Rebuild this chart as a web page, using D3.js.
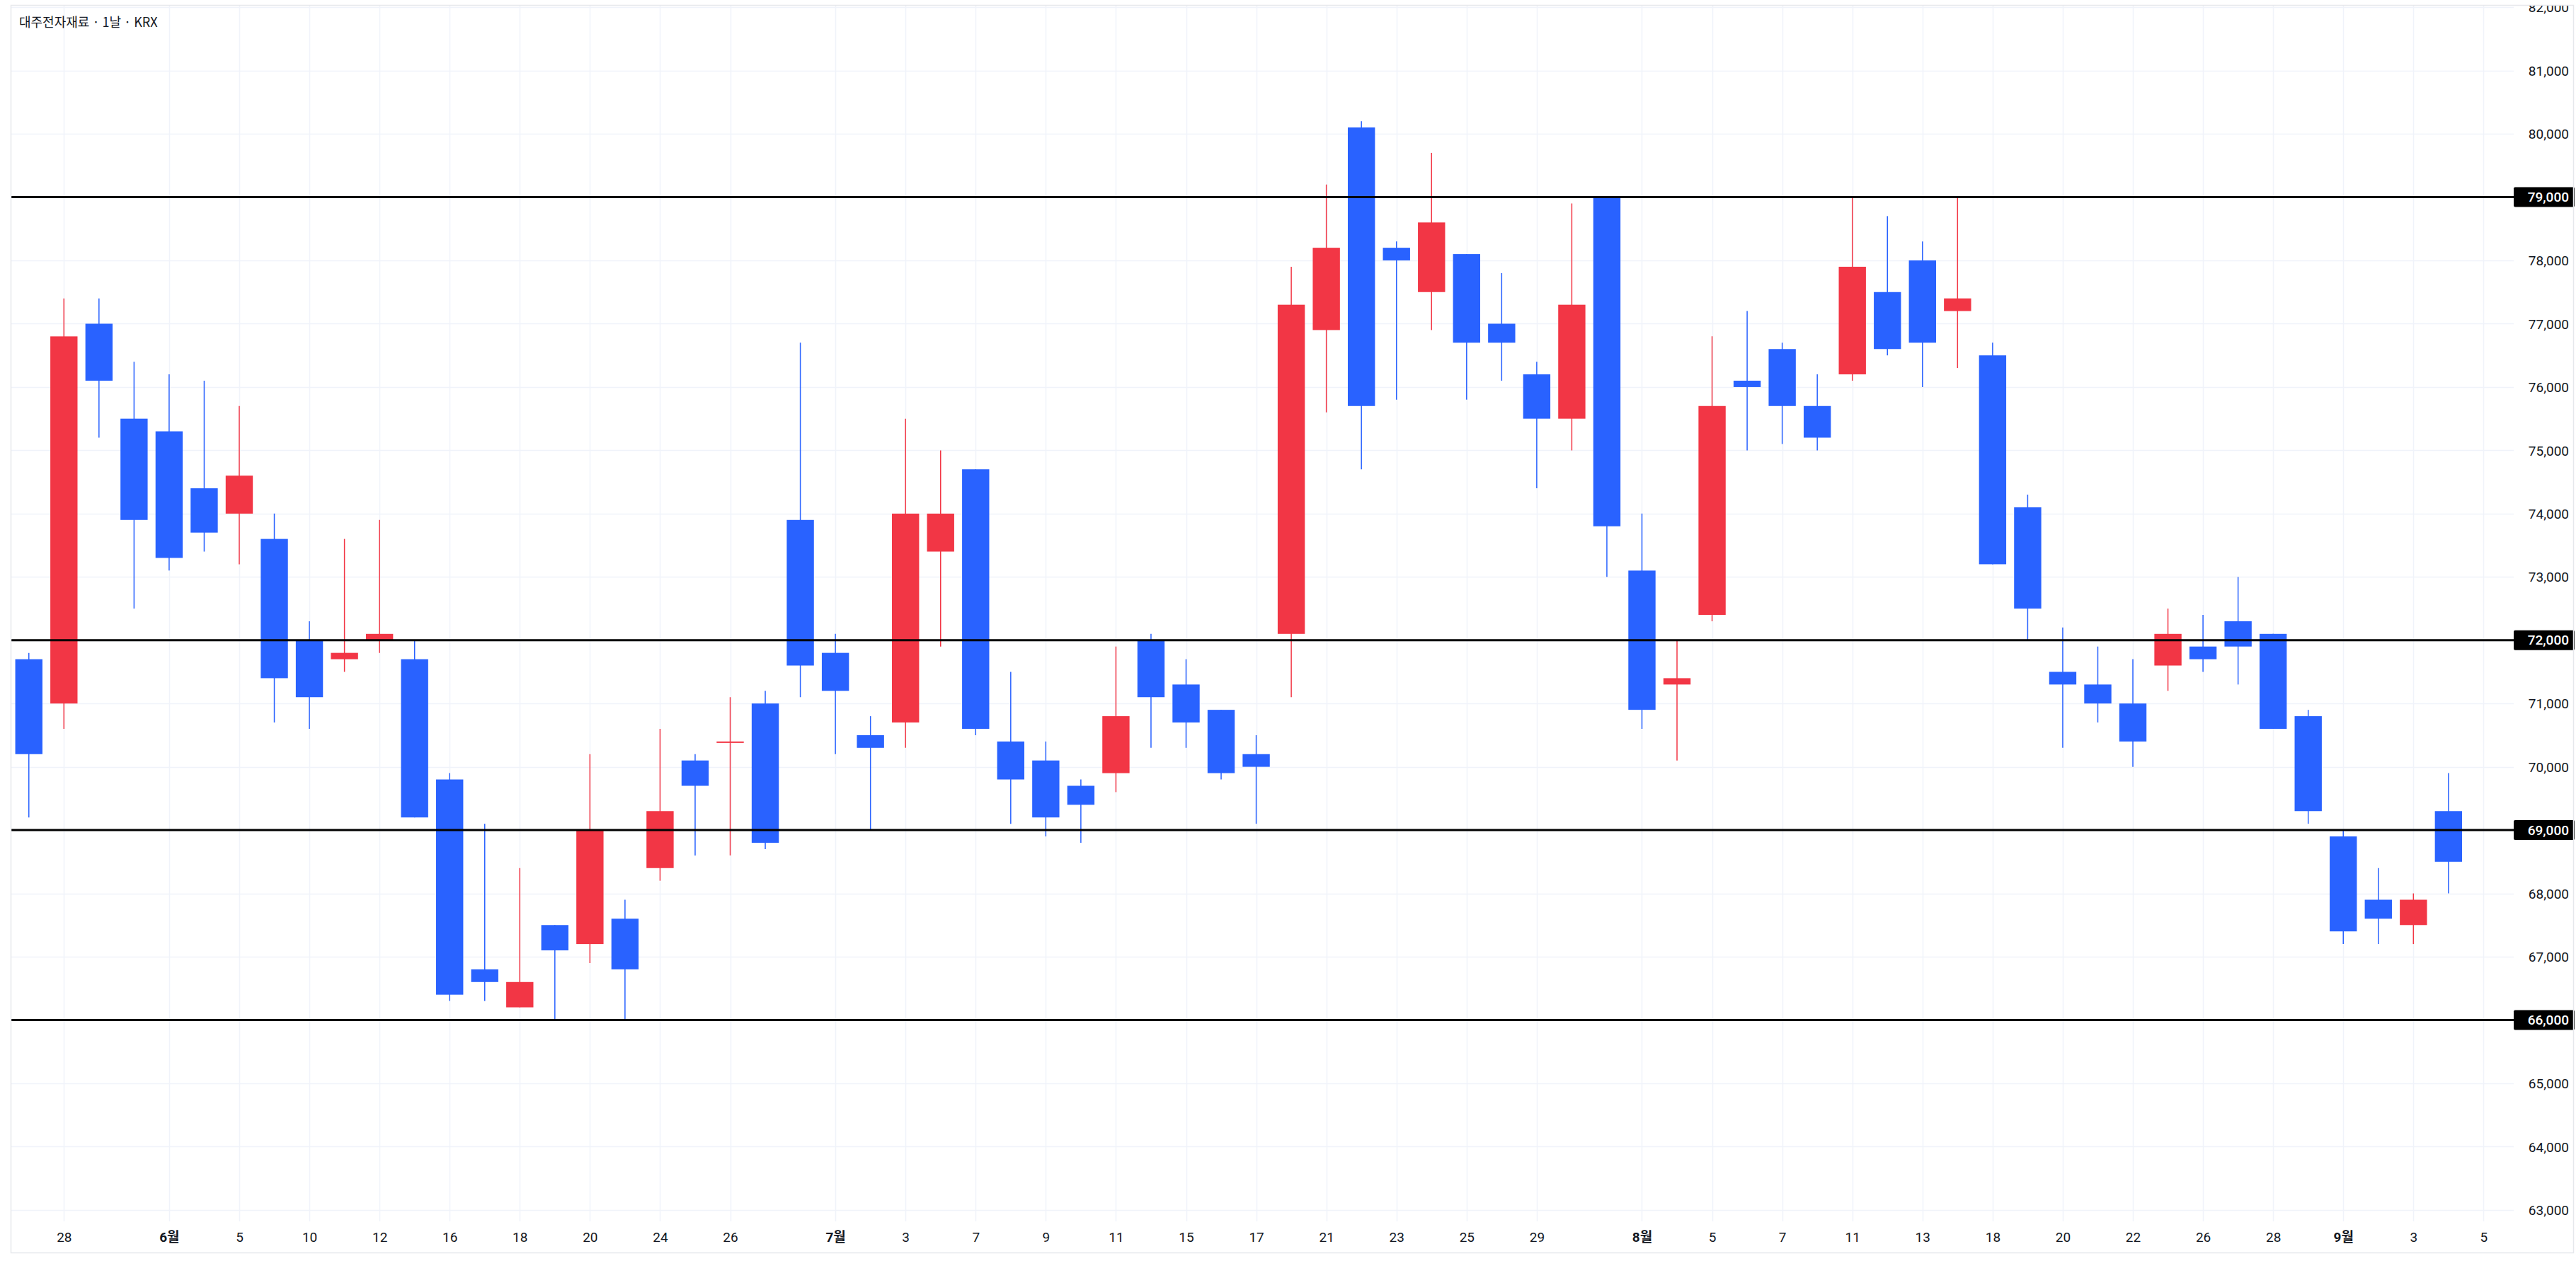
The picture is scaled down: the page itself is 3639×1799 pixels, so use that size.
<!DOCTYPE html>
<html><head><meta charset="utf-8">
<script src="https://cdn.jsdelivr.net/npm/d3@7"></script>
<style>html,body{margin:0;padding:0;background:#fff;} svg{display:block}</style>
</head><body>
<svg id="chart" width="3639" height="1799"></svg>
<script>
const title = "대주전자재료 · 1날 · KRX";
// trading sessions on the time axis (last one has no bar yet)
const sessions = [
 "2025-05-27","2025-05-28","2025-05-29","2025-05-30",
 "2025-06-02","2025-06-04","2025-06-05","2025-06-09","2025-06-10","2025-06-11","2025-06-12","2025-06-13",
 "2025-06-16","2025-06-17","2025-06-18","2025-06-19","2025-06-20","2025-06-23","2025-06-24","2025-06-25",
 "2025-06-26","2025-06-27","2025-06-30",
 "2025-07-01","2025-07-02","2025-07-03","2025-07-04","2025-07-07","2025-07-08","2025-07-09","2025-07-10",
 "2025-07-11","2025-07-14","2025-07-15","2025-07-16","2025-07-17","2025-07-18","2025-07-21","2025-07-22",
 "2025-07-23","2025-07-24","2025-07-25","2025-07-28","2025-07-29","2025-07-30","2025-07-31",
 "2025-08-01","2025-08-04","2025-08-05","2025-08-06","2025-08-07","2025-08-08","2025-08-11","2025-08-12",
 "2025-08-13","2025-08-14","2025-08-18","2025-08-19","2025-08-20","2025-08-21","2025-08-22","2025-08-25",
 "2025-08-26","2025-08-27","2025-08-28","2025-08-29",
 "2025-09-01","2025-09-02","2025-09-03","2025-09-04","2025-09-05"
];
const opens  = [71700,71000,77000,75500,75300,74400,74000,73600,72000,71700,72000,71700,69800,66800,66200,67500,67200,67600,68400,70100,70400,71000,73900,71800,70500,70700,73400,74700,70400,70100,69700,69900,72000,71300,70900,70200,72100,76900,80100,78200,77500,78100,77000,76200,75500,79000,73100,71300,72400,76100,76600,75700,76200,77500,78000,77200,76500,74100,71500,71300,71000,71600,71900,72300,72100,70800,68900,67900,67500,69300];
const highs  = [71800,77400,77400,76400,76200,76100,75700,74000,72300,73600,73900,72000,69900,69100,68400,67500,70200,67900,70600,70200,71100,71200,76700,72100,70800,75500,75000,74700,71500,70400,69800,71900,72100,71700,70900,70500,77900,79200,80200,78300,79700,78100,77800,76400,78900,79000,74000,72000,76800,77200,76700,76200,79000,78700,78300,79000,76700,74300,72200,71900,71700,72500,72400,73000,72100,70900,69000,68400,68000,69900];
const lows   = [69200,70600,75200,72500,73100,73400,73200,70700,70600,71500,71800,69200,66300,66300,66200,66000,66900,66000,68200,68600,68600,68700,71100,70200,69000,70300,71900,70500,69100,68900,68800,69600,70300,70300,69800,69100,71100,75600,74700,75800,76900,75800,76100,74400,75000,73000,70600,70100,72300,75000,75100,75000,76100,76500,76000,76300,73200,72000,70300,70700,70000,71200,71500,71300,70600,69100,67200,67200,67200,68000];
const closes = [70200,76800,76100,73900,73300,73700,74600,71400,71100,71800,72100,69200,66400,66600,66600,67100,69000,66800,69300,69700,70400,68800,71600,71200,70300,74000,74000,70600,69800,69200,69400,70800,71100,70700,69900,70000,77300,78200,75700,78000,78600,76700,76700,75500,77300,73800,70900,71400,75700,76000,75700,75200,77900,76600,76700,77400,73200,72500,71300,71000,70400,72100,71700,71900,70600,69300,67400,67600,67900,68500];
const levels = [79000, 72000, 69000, 66000];
const yTicks = d3.range(63000, 82001, 1000);
const xTickDates  = ["2025-05-28","2025-06-02","2025-06-05","2025-06-10","2025-06-12","2025-06-16","2025-06-18","2025-06-20","2025-06-24","2025-06-26","2025-07-01","2025-07-03","2025-07-07","2025-07-09","2025-07-11","2025-07-15","2025-07-17","2025-07-21","2025-07-23","2025-07-25","2025-07-29","2025-08-01","2025-08-05","2025-08-07","2025-08-11","2025-08-13","2025-08-18","2025-08-20","2025-08-22","2025-08-26","2025-08-28","2025-09-01","2025-09-03","2025-09-05"];
const xTickLabels = ["28","6월","5","10","12","16","18","20","24","26","7월","3","7","9","11","15","17","21","23","25","29","8월","5","7","11","13","18","20","22","26","28","9월","3","5"];

const W = 3639, H = 1799;
const frame = {left: 15, top: 7, right: 3635, bottom: 1770};
const plot = {left: 15, top: 7, right: 3551, bottom: 1726};
const UP = "#F23645", DOWN = "#2962FF", TEXT = "#131722", GRID = "#F0F3FA";
const FONT = "Roboto, 'Noto Sans CJK KR', sans-serif";

const svg = d3.select("#chart");
const x = d3.scaleLinear().domain([-0.52, 70.86]).range([plot.left, plot.right]);
const y = d3.scaleLinear().domain([62819, 82036]).range([plot.bottom, plot.top]);
const step = x(1) - x(0);
const bodyW = step * 0.775;

const defs = svg.append("defs");
defs.append("clipPath").attr("id", "plotClip").append("rect")
  .attr("x", plot.left).attr("y", plot.top).attr("width", plot.right - plot.left).attr("height", plot.bottom - plot.top);
defs.append("clipPath").attr("id", "frameClip").append("rect")
  .attr("x", frame.left).attr("y", frame.top).attr("width", frame.right - frame.left).attr("height", frame.bottom - frame.top);

svg.append("rect").attr("width", W).attr("height", H).attr("fill", "#fff");

// grid
const tickIdx = xTickDates.map(d => sessions.indexOf(d));
const grid = svg.append("g").attr("clip-path", "url(#plotClip)");
grid.selectAll("line.h").data(yTicks).join("line")
  .attr("x1", plot.left).attr("x2", plot.right)
  .attr("y1", d => Math.round(y(d)) + 0.5).attr("y2", d => Math.round(y(d)) + 0.5)
  .attr("stroke", GRID).attr("stroke-width", 1.5);
grid.selectAll("line.v").data(tickIdx).join("line")
  .attr("x1", d => Math.round(x(d)) + 0.5).attr("x2", d => Math.round(x(d)) + 0.5)
  .attr("y1", plot.top).attr("y2", plot.bottom)
  .attr("stroke", GRID).attr("stroke-width", 1.5);

// candles
const bars = opens.map((o, i) => ({i, o, h: highs[i], l: lows[i], c: closes[i]}));
const cg = svg.append("g").attr("clip-path", "url(#plotClip)");
const cand = cg.selectAll("g.c").data(bars).join("g");
cand.append("line")
  .attr("x1", d => x(d.i)).attr("x2", d => x(d.i))
  .attr("y1", d => y(d.h)).attr("y2", d => y(d.l))
  .attr("stroke", d => d.c >= d.o ? UP : DOWN).attr("stroke-width", 1.5);
cand.append("rect")
  .attr("x", d => x(d.i) - bodyW / 2).attr("width", bodyW)
  .attr("y", d => y(Math.max(d.o, d.c)))
  .attr("height", d => Math.max(2, Math.abs(y(d.o) - y(d.c))))
  .attr("fill", d => d.c >= d.o ? UP : DOWN);

// horizontal levels
svg.append("g").selectAll("line").data(levels).join("line")
  .attr("x1", plot.left).attr("x2", plot.right)
  .attr("y1", d => y(d)).attr("y2", d => y(d))
  .attr("stroke", "#000").attr("stroke-width", 3);

// y axis
const yAxis = d3.axisLeft(y).tickValues(yTicks).tickFormat(d3.format(",")).tickSize(0).tickPadding(0);
const yg = svg.append("g").attr("clip-path", "url(#frameClip)")
  .append("g").attr("transform", `translate(3629,0)`).call(yAxis);
yg.select(".domain").remove();
yg.selectAll("text").attr("font-family", FONT).attr("font-size", 19).attr("fill", TEXT).attr("dy", "0.35em");

// level labels
const lg = svg.append("g").selectAll("g").data(levels).join("g");
lg.append("rect").attr("x", plot.right).attr("width", 86)
  .attr("y", d => y(d) - 14).attr("height", 28).attr("rx", 2).attr("fill", "#000");
lg.append("text").attr("x", 3629).attr("y", d => y(d)).attr("dy", "0.35em")
  .attr("text-anchor", "end").attr("font-family", FONT).attr("font-size", 19).attr("font-weight", 500)
  .attr("fill", "#fff").text(d => d3.format(",")(d));

// x axis
const xAxis = d3.axisBottom(x).tickValues(tickIdx).tickFormat((d, k) => xTickLabels[k]).tickSize(0);
const xg = svg.append("g").attr("transform", `translate(0,${plot.bottom})`).call(xAxis);
xg.select(".domain").remove();
xg.selectAll("text").attr("y", 22).attr("dy", "0.35em")
  .attr("font-family", FONT).attr("font-size", 19).attr("fill", TEXT)
  .attr("font-weight", (d, k) => xTickLabels[k].includes("월") ? 700 : 400);

// frame
svg.append("rect").attr("x", frame.left + 0.5).attr("y", frame.top + 0.5)
  .attr("width", frame.right - frame.left).attr("height", frame.bottom - frame.top)
  .attr("fill", "none").attr("stroke", "#E6E8EC").attr("stroke-width", 1.5);

// title
svg.append("text").attr("x", 27).attr("y", 32).attr("dy", "0.35em")
  .attr("font-family", "'Noto Sans CJK KR', 'Noto Sans', sans-serif").attr("font-size", 18)
  .attr("fill", TEXT).text(title);
</script>
</body></html>
